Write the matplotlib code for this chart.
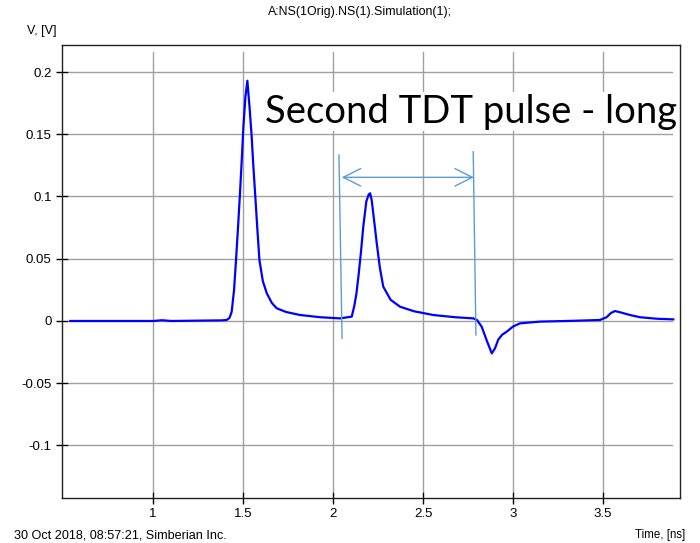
import matplotlib
matplotlib.use("Agg")
import matplotlib.pyplot as plt
from matplotlib import font_manager

# simulated TDT response, V over ns
t_ns = [0.54, 1.0, 1.05, 1.1, 1.38, 1.409, 1.425, 1.437, 1.45, 1.461,
        1.472, 1.483, 1.493, 1.502, 1.513, 1.524, 1.536, 1.548, 1.557, 1.567,
        1.579, 1.591, 1.61, 1.632, 1.66, 1.687, 1.74, 1.817, 1.93, 2.039,
        2.104, 2.118, 2.13, 2.141, 2.155, 2.168, 2.185, 2.198, 2.206, 2.215,
        2.228, 2.243, 2.26, 2.279, 2.32, 2.372, 2.45, 2.557, 2.68, 2.779,
        2.80, 2.826, 2.855, 2.882, 2.90, 2.918, 2.94, 2.965, 3.0, 3.039,
        3.15, 3.3, 3.483, 3.52, 3.545, 3.567, 3.6, 3.65, 3.706, 3.8,
        3.891]
v_volt = [0.0, 0.0, 0.0006, 0.0, 0.0005, 0.0008, 0.0025, 0.0075, 0.025, 0.049,
          0.075, 0.1026, 0.13, 0.156, 0.18, 0.193, 0.172, 0.148, 0.125, 0.1026,
          0.075, 0.049, 0.032, 0.0222, 0.0145, 0.0102, 0.0072, 0.0048, 0.003, 0.0021,
          0.0035, 0.012, 0.022, 0.0356, 0.055, 0.0757, 0.096, 0.1015, 0.1026, 0.097,
          0.081, 0.0624, 0.043, 0.0276, 0.017, 0.0115, 0.0078, 0.0048, 0.003, 0.0021,
          0.0008, -0.0046, -0.016, -0.026, -0.022, -0.015, -0.011, -0.0086, -0.0045, -0.0019,
          -0.0005, 0.0, 0.0008, 0.003, 0.0065, 0.008, 0.0068, 0.0048, 0.003, 0.0018,
          0.0013]

x_ticks = [1, 1.5, 2, 2.5, 3, 3.5]
x_labels = ["1", "1.5", "2", "2.5", "3", "3.5"]
y_ticks = [0.2, 0.15, 0.1, 0.05, 0, -0.05, -0.1]
y_labels = ["0.2", "0.15", "0.1", "0.05", "0", "-0.05", "-0.1"]

# pulse window marker: start / end of the second pulse
win_start = (2.033, 0.1333, 2.05, -0.0139)
win_end = (2.779, 0.1359, 2.794, -0.0112)
arrow_y = 0.1154

installed = {f.name for f in font_manager.fontManager.ttflist}
small_font = "Liberation Sans Narrow" if "Liberation Sans Narrow" in installed else "Liberation Sans"

fig = plt.figure(figsize=(7.0, 5.43), dpi=100)
ax = fig.add_axes([62 / 700, 45 / 543, 618 / 700, 453 / 543])

ax.set_xlim(0.494, 3.928)
ax.set_ylim(-0.1422, 0.2217)

# grid stops a few pixels short of the frame
for xt in x_ticks:
    ax.axvline(xt, ymin=0.015, ymax=0.985, color="#a0a0a0", lw=1, zorder=1)
for yt in y_ticks:
    ax.axhline(yt, xmin=0.011, xmax=0.987, color="#a0a0a0", lw=1, zorder=1)

ax.plot(t_ns, v_volt, color="#0000ff", lw=1.6, zorder=3)

# window lines and double arrow
c = "#5b9bd5"
ax.plot([win_start[0], win_start[2]], [win_start[1], win_start[3]], color=c, lw=1, zorder=4)
ax.plot([win_end[0], win_end[2]], [win_end[1], win_end[3]], color=c, lw=1, zorder=4)
ax.annotate("", xy=(win_start[2] - 0.002, arrow_y), xytext=(win_end[0] + 0.004, arrow_y),
            arrowprops=dict(arrowstyle="<->,head_length=0.9,head_width=0.45", color=c, lw=1,
                            mutation_scale=14, shrinkA=0, shrinkB=0),
            zorder=4)

ax.text(1.622, 0.1593, "Second TDT pulse - long", fontsize=27.5, family="Lato",
        va="baseline", ha="left", zorder=5,
        bbox=dict(facecolor="white", edgecolor="none", pad=1))

ax.set_xticks(x_ticks)
ax.set_xticklabels(x_labels)
ax.set_yticks(y_ticks)
ax.set_yticklabels(y_labels)
ax.tick_params(direction="inout", length=9, width=1, color="black",
               labelsize=9.5, pad=3)
for lab in ax.get_xticklabels() + ax.get_yticklabels():
    lab.set_family(small_font)
for sp in ax.spines.values():
    sp.set_color("#202020")
    sp.set_linewidth(1)

fig.text(360 / 700, 1 - 12 / 543, "A:NS(1Orig).NS(1).Simulation(1);", ha="center", va="center",
         fontsize=8.9, family=small_font)
fig.text(27 / 700, 1 - 31 / 543, "V, [V]", ha="left", va="center", fontsize=9, family=small_font)
fig.text(14 / 700, 1 - 535 / 543, "30 Oct 2018, 08:57:21, Simberian Inc.", ha="left", va="center",
         fontsize=9.1, family=small_font)
fig.text(685 / 700, 1 - 535 / 543, "Time, [ns]", ha="right", va="center", fontsize=8.3,
         family=small_font)

fig.savefig("out.png", dpi=100, facecolor="white")
